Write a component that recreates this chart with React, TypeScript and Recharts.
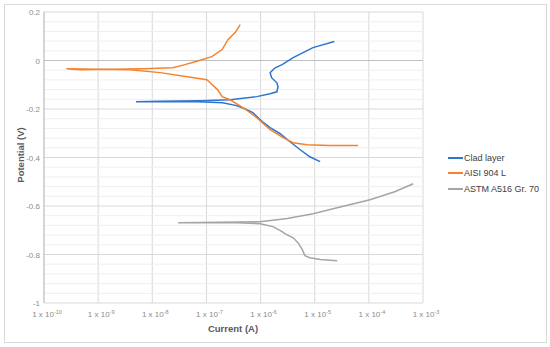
import React from "react";
import { LineChart, Line, XAxis, YAxis, CartesianGrid, ReferenceLine, Legend } from "recharts";

// Current (A) and Potential (V)
const cladCurrent = [1.26e-5, 8.1e-6, 5.4e-6, 3.5e-6, 2.3e-6, 1.5e-6, 1.07e-6, 7.2e-7, 5.1e-7, 3.6e-7, 2.0e-7, 6.8e-8, 2.1e-8, 5.0e-9,
  1.4e-8, 7.6e-8, 2.75e-7, 8.5e-7, 1.5e-6, 2.0e-6, 2.1e-6, 2.0e-6, 1.6e-6, 1.5e-6, 1.86e-6, 2.5e-6, 4.0e-6, 9.3e-6, 2.3e-5];
const cladPotential = [-0.417, -0.397, -0.368, -0.335, -0.302, -0.277, -0.252, -0.215, -0.199, -0.186, -0.174, -0.170, -0.170, -0.170,
  -0.168, -0.166, -0.162, -0.149, -0.137, -0.129, -0.108, -0.092, -0.071, -0.050, -0.030, -0.017, 0.012, 0.053, 0.078];

const aisiCurrent = [6.3e-5, 1.9e-5, 7.2e-6, 4.0e-6, 2.6e-6, 1.5e-6, 8.5e-7, 5.1e-7, 2.75e-7, 1.95e-7, 1.6e-7, 1.17e-7, 1.02e-7, 4.4e-8, 1.4e-8, 3.9e-9, 1.07e-9, 2.6e-10,
  4.6e-10, 6.8e-9, 2.4e-8, 4.0e-8, 6.2e-8, 1.26e-7, 1.95e-7, 2.5e-7, 3.4e-7, 4.2e-7];
const aisiPotential = [-0.351, -0.351, -0.347, -0.339, -0.318, -0.285, -0.236, -0.199, -0.162, -0.149, -0.120, -0.092, -0.079, -0.067, -0.050, -0.038, -0.036, -0.034,
  -0.038, -0.034, -0.030, -0.017, -0.005, 0.016, 0.045, 0.086, 0.115, 0.148];

const astmCurrent = [2.6e-5, 1.26e-5, 8.1e-6, 6.6e-6, 5.9e-6, 4.9e-6, 4.0e-6, 2.8e-6, 2.5e-6, 1.7e-6, 9.8e-7, 3.6e-7, 7.6e-8, 3.0e-8,
  1.8e-7, 9.8e-7, 3.1e-6, 9.3e-6, 2.6e-5, 1.05e-4, 3.0e-4, 6.6e-4];
const astmPotential = [-0.826, -0.821, -0.813, -0.805, -0.780, -0.751, -0.731, -0.714, -0.706, -0.685, -0.673, -0.669, -0.669, -0.669,
  -0.667, -0.665, -0.652, -0.632, -0.607, -0.574, -0.541, -0.508];

const seriesNames = ["Clad layer", "AISI 904 L", "ASTM A516 Gr. 70"];
const seriesColors = ["#2f74cc", "#f5822f", "#a5a5a5"];

const xTicks = [1e-10, 1e-9, 1e-8, 1e-7, 1e-6, 1e-5, 1e-4, 1e-3];
const yTicks = [-1, -0.8, -0.6, -0.4, -0.2, 0, 0.2];
const yMinor = [0.16, 0.12, 0.08, 0.04, -0.04, -0.08, -0.12, -0.16, -0.24, -0.28, -0.32, -0.36, -0.44, -0.48, -0.52, -0.56,
  -0.64, -0.68, -0.72, -0.76, -0.84, -0.88, -0.92, -0.96];

const zip = (xs: number[], ys: number[]) => xs.map((x, i) => ({ i: x, v: ys[i] }));
const cladData = zip(cladCurrent, cladPotential);
const aisiData = zip(aisiCurrent, aisiPotential);
const astmData = zip(astmCurrent, astmPotential);

const FONT = "'Liberation Sans', Arial, sans-serif";

const XTick = (props: any) => {
  const { x, y, payload } = props;
  const n = Math.round(Math.log10(payload.value));
  return (
    <text x={x + 3} y={y + 12} textAnchor="middle" fontSize={8} fill="#8c8c8c" fontFamily={FONT}>
      <tspan>1 x 10</tspan>
      <tspan dy={-3} fontSize={5.5}>{String(n)}</tspan>
    </text>
  );
};

const YTick = (props: any) => {
  const { x, y, payload } = props;
  const v = Math.round(payload.value * 10) / 10;
  return (
    <text x={x - 2} y={y + 3} textAnchor="end" fontSize={8} fill="#8c8c8c" fontFamily={FONT}>
      {String(v)}
    </text>
  );
};

const LegendContent = () => (
  <div style={{ fontFamily: FONT, fontSize: 9, color: "#404040" }}>
    {seriesNames.map((n, k) => (
      <div key={n} style={{ display: "flex", alignItems: "center", height: 15.5 }}>
        <div style={{ width: 15, height: 2, background: seriesColors[k], marginRight: 1 }} />
        <span>{n}</span>
      </div>
    ))}
  </div>
);

export default function App() {
  return (
    <div style={{ position: "absolute", left: 0, top: 0, width: 550, height: 347, background: "#fff" }}>
      <div style={{ position: "absolute", left: 4, top: 4, width: 541, height: 337, border: "1px solid #d9d9d9" }} />
      <LineChart width={550} height={347} margin={{ top: 12, right: 127, bottom: 14, left: 0 }}>
        <CartesianGrid stroke="#d9d9d9" strokeWidth={1} />
        {yMinor.map((m) => (
          <ReferenceLine key={m} y={m} stroke="#efefef" strokeWidth={1} />
        ))}
        <XAxis
          dataKey="i"
          type="number"
          scale="log"
          domain={[1e-10, 1e-3]}
          ticks={xTicks}
          allowDataOverflow
          axisLine={false}
          tickLine={false}
          tickSize={0}
          height={30}
          tick={<XTick />}
          interval={0}
        />
        <YAxis
          type="number"
          domain={[-1, 0.2]}
          ticks={yTicks}
          axisLine={false}
          tickLine={false}
          tickSize={0}
          width={44}
          tick={<YTick />}
          interval={0}
        />
        <ReferenceLine y={0} stroke="#bfbfbf" strokeWidth={1} />
        <ReferenceLine x={1e-10} stroke="#bfbfbf" strokeWidth={1} />
        <Line data={cladData} dataKey="v" name={seriesNames[0]} stroke={seriesColors[0]} strokeWidth={1.5} dot={false} isAnimationActive={false} type="linear" />
        <Line data={aisiData} dataKey="v" name={seriesNames[1]} stroke={seriesColors[1]} strokeWidth={1.5} dot={false} isAnimationActive={false} type="linear" />
        <Line data={astmData} dataKey="v" name={seriesNames[2]} stroke={seriesColors[2]} strokeWidth={1.5} dot={false} isAnimationActive={false} type="linear" />
        <Legend
          layout="vertical"
          align="center"
          verticalAlign="middle"
          content={<LegendContent />}
          wrapperStyle={{ position: "absolute", left: 448, top: 150, width: 100 }}
        />
      </LineChart>
      <div style={{ position: "absolute", left: 0, top: 0, width: 0, height: 0 }}>
        <div
          style={{
            position: "absolute",
            left: 20,
            top: 155,
            transform: "translate(-50%, -50%) rotate(-90deg)",
            whiteSpace: "nowrap",
            fontFamily: FONT,
            fontSize: 9.5,
            fontWeight: "bold",
            color: "#595959",
          }}
        >
          Potential (V)
        </div>
        <div
          style={{
            position: "absolute",
            left: 233,
            top: 328,
            transform: "translate(-50%, -50%)",
            whiteSpace: "nowrap",
            fontFamily: FONT,
            fontSize: 9.5,
            fontWeight: "bold",
            color: "#595959",
          }}
        >
          Current (A)
        </div>
      </div>
    </div>
  );
}
